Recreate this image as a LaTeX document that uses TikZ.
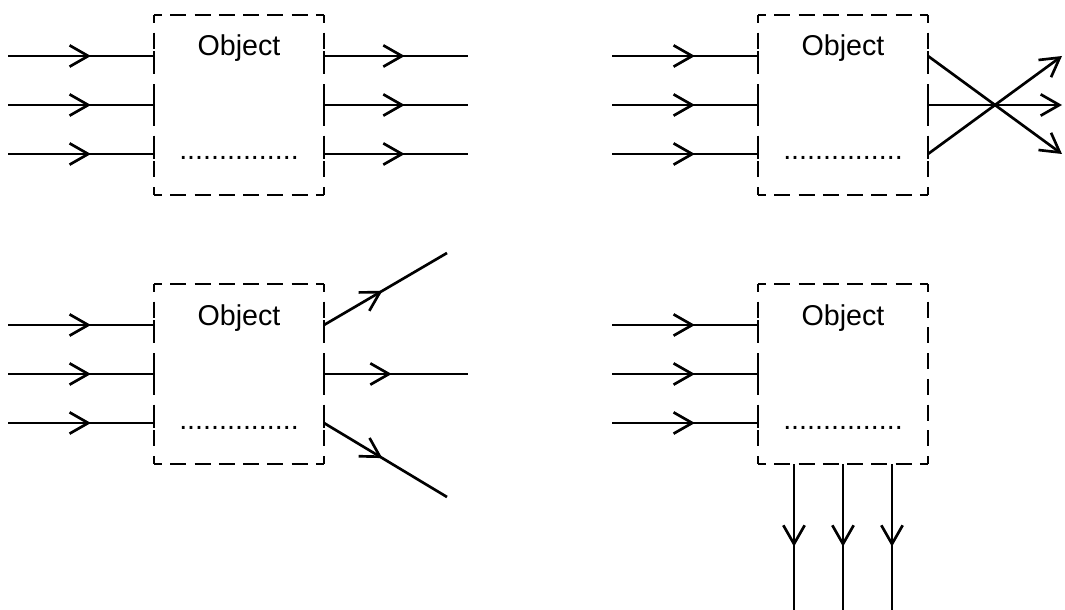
\documentclass[tikz,border=0pt]{standalone}
\usepackage{fontspec}
\setmainfont{Liberation Sans}
\usetikzlibrary{arrows.meta,decorations.markings,calc}
\begin{document}
\begin{tikzpicture}[x=0.75pt,y=-0.75pt,
  line width=2pt,
  objbox/.style={minimum width=127.5pt,minimum height=135pt,inner sep=0pt,outer sep=0pt,draw=none},
  hside/.style={line width=2pt,dash pattern=on 12pt off 6.21pt,dash phase=6pt},
  vside/.style={line width=2pt,dash pattern=on 12pt off 7.29pt,dash phase=6pt},
  lbl/.style={font=\fontsize{21.5pt}{24pt}\selectfont,inner sep=0pt,anchor=base},
  midarrow/.style={postaction={decorate},decoration={markings,mark=at position #1 with {\arrow{Straight Barb[length=14pt,width=16pt]}}}},
  conn/.style={line width=2pt},
  endarrow/.style={line width=2pt,-{Straight Barb[length=14pt,width=16pt]}},
]
\useasboundingbox (0,0) rectangle (1065,610);

% boxes
\node[objbox] (o1) at (239,105) {};
\node[objbox] (o2) at (843,105) {};
\node[objbox] (o3) at (239,374) {};
\node[objbox] (o4) at (843,374) {};

\foreach \b in {o1,o2,o3,o4}{
  \draw[hside] (\b.north west) -- (\b.north east);
  \draw[hside] (\b.south west) -- (\b.south east);
  \draw[vside] (\b.north west) -- (\b.south west);
  \draw[vside] (\b.north east) -- (\b.south east);
}

% labels
\node[lbl] (t1) at (239,56) {Object};
\node[lbl] (d1) at (239,160) {...............};
\node[lbl] (t2) at (843,56) {Object};
\node[lbl] (d2) at (843,160) {...............};
\node[lbl] (t3) at (239,325) {Object};
\node[lbl] (d3) at (239,429) {...............};
\node[lbl] (t4) at (843,325) {Object};
\node[lbl] (d4) at (843,429) {...............};

% ===== panel 1 (top left)
\foreach \i/\y in {1/56,2/105,3/154}{
  \coordinate (a1\i) at (8,\y);
  \coordinate (p1\i) at (o1.west |- a1\i);
  \draw[conn,midarrow=0.568] (a1\i) -- (p1\i);
  \draw[conn] ($(p1\i)+(0,-5)$) -- ($(p1\i)+(0,5)$);
  \coordinate (q1\i) at (o1.east |- a1\i);
  \coordinate (e1\i) at (468,\y);
  \draw[conn,midarrow=0.56] (q1\i) -- (e1\i);
  \draw[conn] ($(q1\i)+(0,-5)$) -- ($(q1\i)+(0,5)$);
}

% ===== panel 2 (top right)
\foreach \i/\y in {1/56,2/105,3/154}{
  \coordinate (a2\i) at (612,\y);
  \coordinate (p2\i) at (o2.west |- a2\i);
  \draw[conn,midarrow=0.568] (a2\i) -- (p2\i);
  \draw[conn] ($(p2\i)+(0,-5)$) -- ($(p2\i)+(0,5)$);
  \coordinate (q2\i) at (o2.east |- a2\i);
  \draw[conn] ($(q2\i)+(0,-5)$) -- ($(q2\i)+(0,5)$);
}
\coordinate (e21) at (1062,56);
\coordinate (e22) at (1062,105);
\coordinate (e23) at (1062,154);
\draw[endarrow] (q21) -- (e23);
\draw[endarrow] (q22) -- (e22);
\draw[endarrow] (q23) -- (e21);

% ===== panel 3 (bottom left)
\foreach \i/\y in {1/325,2/374,3/423}{
  \coordinate (a3\i) at (8,\y);
  \coordinate (p3\i) at (o3.west |- a3\i);
  \draw[conn,midarrow=0.568] (a3\i) -- (p3\i);
  \draw[conn] ($(p3\i)+(0,-5)$) -- ($(p3\i)+(0,5)$);
  \coordinate (q3\i) at (o3.east |- a3\i);
  \draw[conn] ($(q3\i)+(0,-5)$) -- ($(q3\i)+(0,5)$);
}
\coordinate (e31) at (447,253);
\coordinate (e32) at (468,374);
\coordinate (e33) at (447,497);
\draw[conn,midarrow=0.475] (q31) -- (e31);
\draw[conn,midarrow=0.47] (q32) -- (e32);
\draw[conn,midarrow=0.475] (q33) -- (e33);

% ===== panel 4 (bottom right)
\foreach \i/\y in {1/325,2/374,3/423}{
  \coordinate (a4\i) at (612,\y);
  \coordinate (p4\i) at (o4.west |- a4\i);
  \draw[conn,midarrow=0.568] (a4\i) -- (p4\i);
  \draw[conn] ($(p4\i)+(0,-5)$) -- ($(p4\i)+(0,5)$);
}
\foreach \i/\x in {1/794,2/843,3/892}{
  \coordinate (e4\i) at (\x,610);
  \coordinate (q4\i) at (o4.south -| e4\i);
  \draw[conn,midarrow=0.566] (q4\i) -- (e4\i);
}
\end{tikzpicture}
\end{document}
